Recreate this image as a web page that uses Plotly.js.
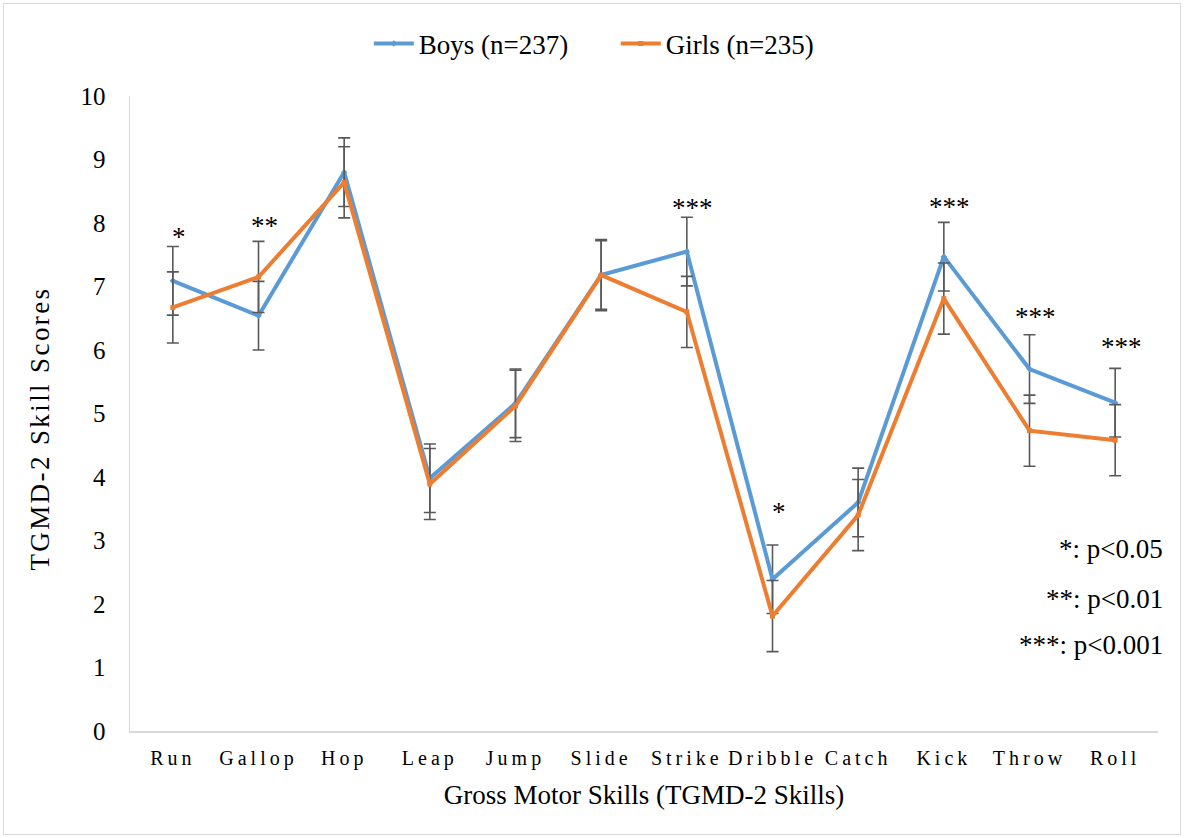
<!DOCTYPE html>
<html>
<head>
<meta charset="utf-8">
<script src="https://cdn.plot.ly/plotly-3.0.1.min.js"></script>
<style>
  html, body { margin: 0; padding: 0; background: #ffffff; }
  #wrap { position: relative; width: 1184px; height: 838px; }
  #chart { position: absolute; left: 0; top: 0; width: 1184px; height: 838px; }
  #frame { position: absolute; left: 3px; top: 3px; width: 1176px; height: 830px;
           border: 1px solid #d9d9d9; pointer-events: none; }
  .xtick text { letter-spacing: 4px; }
  /* vertical axis caption is drawn as the first annotation */
  .annotation[data-index="0"] text { letter-spacing: 2.4px; }
</style>
</head>
<body>
<div id="wrap">
  <div id="chart"></div>
  <div id="frame"></div>
</div>
<script>
// TGMD-2 skill scores by sex
const skills = ["Run", "Gallop", "Hop", "Leap", "Jump", "Slide", "Strike", "Dribble", "Catch", "Kick", "Throw", "Roll"];
const boys  = [7.09, 6.54, 8.80, 3.98, 5.16, 7.18, 7.55, 2.39, 3.60, 7.47, 5.70, 5.17];
const girls = [6.67, 7.15, 8.64, 3.89, 5.12, 7.18, 6.60, 1.81, 3.40, 6.81, 4.73, 4.58];
const boysErr  = [0.54, 0.54, 0.54, 0.54, 0.54, 0.54, 0.54, 0.54, 0.54, 0.54, 0.54, 0.54];
const girlsErr = [0.56, 0.56, 0.56, 0.56, 0.56, 0.56, 0.56, 0.56, 0.56, 0.56, 0.56, 0.56];
// significance markers per skill ("" = not significant) and the height they sit at
const sigMarks = ["*", "**", "", "", "", "", "***", "*", "", "***", "***", "***"];
const sigLevel = [7.84, 8.02, 0, 0, 0, 0, 8.30, 3.51, 0, 8.31, 6.58, 6.11];
const sigKey = ["*: p<0.05", "**: p<0.01", "***: p<0.001"];
const sigKeyY = [2.87, 2.08, 1.35];
const yTitle = "TGMD-2 Skill Scores";

const serif = "'Liberation Serif', 'Times New Roman', serif";
const errStyle = { type: "data", visible: true, color: "#595959", thickness: 1.6, width: 6 };

const traces = [
  {
    type: "scatter", mode: "lines+markers", name: "Boys (n=237)",
    x: skills, y: boys,
    line: { color: "#5B9BD5", width: 4 },
    marker: { symbol: "diamond", size: 5, color: "#5B9BD5" },
    error_y: Object.assign({ array: boysErr }, errStyle)
  },
  {
    type: "scatter", mode: "lines+markers", name: "Girls (n=235)",
    x: skills, y: girls,
    line: { color: "#ED7D31", width: 4 },
    marker: { symbol: "square", size: 5, color: "#ED7D31" },
    error_y: Object.assign({ array: girlsErr }, errStyle)
  }
];

const annotations = [
  {
    x: -0.0875, y: 0.476, xref: "paper", yref: "paper",
    xanchor: "center", yanchor: "middle", textangle: -90,
    text: yTitle, showarrow: false,
    font: { family: serif, size: 27, color: "#000000" }
  }
];
sigMarks.forEach((m, i) => {
  if (!m) return;
  annotations.push({
    x: skills[i], y: sigLevel[i], xref: "x", yref: "y",
    text: m, showarrow: false, xshift: 6, yshift: -4,
    font: { family: serif, size: 27, color: "#000000" }
  });
});
sigKey.forEach((t, i) => {
  annotations.push({
    x: 1.0, y: sigKeyY[i], xref: "paper", yref: "y",
    xanchor: "right", yanchor: "middle", text: t, showarrow: false, xshift: 7,
    font: { family: serif, size: 27, color: "#000000" }
  });
});

const layout = {
  width: 1184, height: 838,
  margin: { l: 130, r: 26, t: 96, b: 107 },
  paper_bgcolor: "#ffffff", plot_bgcolor: "#ffffff",
  font: { family: serif, color: "#000000" },
  showlegend: true,
  legend: {
    orientation: "h", x: 0.4726, xanchor: "center", y: 1.082, yanchor: "middle",
    font: { family: serif, size: 27, color: "#000000" },
    itemwidth: 40, entrywidth: 192, entrywidthmode: "pixels", tracegroupgap: 0
  },
  xaxis: {
    type: "category", range: [-0.5, 11.5],
    showline: true, linecolor: "#d9d9d9", linewidth: 1.5, mirror: false,
    showgrid: false, zeroline: false, ticks: "",
    ticklabelstandoff: 8,
    tickfont: { family: serif, size: 20, color: "#000000" },
    title: { text: "Gross Motor Skills (TGMD-2 Skills)", font: { family: serif, size: 27, color: "#000000" }, standoff: 16 }
  },
  yaxis: {
    range: [0, 10], dtick: 1,
    showline: true, linecolor: "#d9d9d9", linewidth: 1.5,
    showgrid: false, zeroline: false, ticks: "",
    ticklabelstandoff: 18,
    tickfont: { family: serif, size: 25, color: "#000000" }
  },
  annotations: annotations
};

Plotly.newPlot("chart", traces, layout, { displayModeBar: false, staticPlot: true });
</script>
</body>
</html>
